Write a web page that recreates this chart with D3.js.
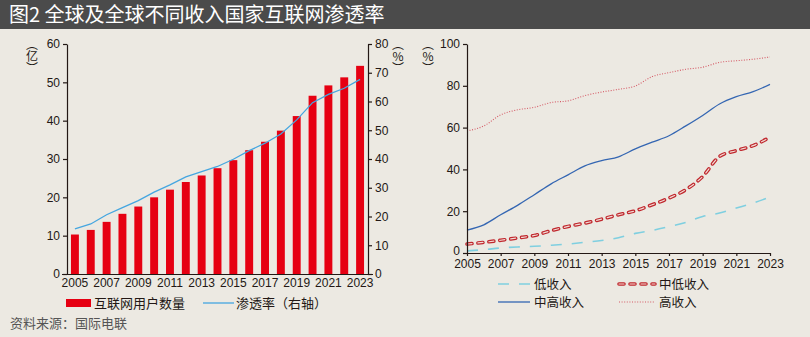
<!DOCTYPE html>
<html>
<head>
<meta charset="utf-8">
<script src="https://cdn.jsdelivr.net/npm/d3@7/dist/d3.min.js"></script>
<style>
  body { margin: 0; background: #ece9e2; }
  svg { display: block; }
  text { font-family: "Liberation Sans", Arial, sans-serif; fill: #231815; }
  .cjk { font-family: "Noto Sans CJK SC", sans-serif; }
</style>
</head>
<body>
<svg id="chart" width="810" height="337"></svg>
<script>
// years shared by both panels
var years = d3.range(2005, 2024);
var yearTicks = [2005, 2007, 2009, 2011, 2013, 2015, 2017, 2019, 2021, 2023];

// global internet users (100 million) and penetration (%)
var users = [10.3, 11.5, 13.6, 15.7, 17.6, 20.0, 22.0, 24.0, 25.7, 27.6, 29.7, 32.3, 34.5, 37.4, 41.2, 46.5, 49.2, 51.3, 54.3];
var penetration = [15.7, 17.4, 20.6, 23.1, 25.5, 28.5, 31.0, 33.8, 35.6, 37.4, 39.9, 42.9, 45.5, 48.7, 53.6, 59.6, 62.5, 64.6, 67.7];

// penetration by income group (%)
var lowIncome = [1.0, 1.6, 2.4, 2.9, 3.2, 3.7, 4.3, 5.1, 6.0, 7.3, 9.4, 10.8, 12.6, 14.6, 17.5, 19.1, 21.5, 23.9, 26.8];
var lowerMiddle = [4.3, 5.1, 6.1, 7.2, 8.4, 10.7, 12.7, 14.3, 16.2, 18.3, 20.2, 23.1, 26.3, 30.3, 36.6, 46.2, 49.0, 51.4, 55.4];
var upperMiddle = [11.0, 13.5, 18.3, 22.8, 27.9, 33.1, 37.4, 41.7, 44.2, 46.0, 49.8, 53.0, 56.1, 60.8, 65.8, 71.3, 74.8, 77.2, 80.7];
var highIncome = [58.4, 60.8, 66.1, 68.5, 69.7, 72.0, 72.8, 75.3, 77.0, 78.3, 79.9, 84.4, 86.3, 87.9, 88.9, 91.2, 92.0, 92.7, 93.8];

var leftTicks = [0, 10, 20, 30, 40, 50, 60];
var rightTicks = [0, 10, 20, 30, 40, 50, 60, 70, 80];
var pctTicks = [0, 20, 40, 60, 80, 100];

var svg = d3.select("#chart");

// title band
svg.append("rect").attr("x", 0).attr("y", 0).attr("width", 810).attr("height", 29).style("fill", "#4b4b4b");
svg.append("text").attr("class", "cjk").attr("x", 9).attr("y", 22)
    .style("font-size", "20px").style("fill", "#ffffff")
    .text("图2 全球及全球不同收入国家互联网渗透率");

// ---- left panel: users + penetration ----
var x1 = d3.scaleBand().domain(years).range([67, 368]).paddingInner(0.5).paddingOuter(0.25);
var yL = d3.scaleLinear().domain([0, 60]).range([274, 44]);
var yR = d3.scaleLinear().domain([0, 80]).range([274, 44]);

svg.append("g").selectAll("rect").data(years).enter().append("rect")
    .attr("x", function (d) { return x1(d); })
    .attr("width", x1.bandwidth())
    .attr("y", function (d, i) { return yL(users[i]); })
    .attr("height", function (d, i) { return yL(0) - yL(users[i]); })
    .style("fill", "#e60012");

var penLine = d3.line()
    .x(function (d, i) { return x1(years[i]) + x1.bandwidth() / 2; })
    .y(function (d) { return yR(d); });

svg.append("path").datum(penetration).attr("d", penLine)
    .style("fill", "none").style("stroke", "#45a6e0").style("stroke-width", 1.3);

function styleAxis(g) {
    g.selectAll("path, line").style("stroke", "#231815").style("stroke-width", 1.2);
    g.selectAll("text").style("font-size", "12px").style("fill", "#231815")
        .style("font-family", "'Liberation Sans', Arial, sans-serif");
}

svg.append("g").attr("transform", "translate(67,0)")
    .call(d3.axisLeft(yL).tickValues(leftTicks).tickSize(4).tickSizeOuter(0).tickPadding(3))
    .call(styleAxis);

svg.append("g").attr("transform", "translate(368,0)")
    .call(d3.axisRight(yR).tickValues(rightTicks).tickSize(4).tickSizeOuter(0).tickPadding(3))
    .call(styleAxis);

svg.append("g").attr("transform", "translate(0,274)")
    .call(d3.axisBottom(x1).tickValues(yearTicks).tickSize(0).tickSizeOuter(0).tickPadding(4))
    .call(styleAxis)
    .call(function (g) { g.select(".domain").attr("d", "M62,0.5H373"); });

// vertical unit labels
function unitLabel(x, y, txt) {
    svg.append("text").attr("class", "cjk").attr("x", x).attr("y", y)
        .style("writing-mode", "vertical-rl").style("text-orientation", "upright")
        .style("font-size", "12px")
        .text(txt);
}
unitLabel(32, 38, "（亿）");
unitLabel(398, 38, "（%）");
unitLabel(428, 38, "（%）");

// left legend
svg.append("rect").attr("x", 66).attr("y", 299).attr("width", 25).attr("height", 8).style("fill", "#e60012");
svg.append("text").attr("class", "cjk").attr("x", 94).attr("y", 308).style("font-size", "13px").text("互联网用户数量");
svg.append("line").attr("x1", 203).attr("x2", 234).attr("y1", 303).attr("y2", 303)
    .style("stroke", "#45a6e0").style("stroke-width", 1.3);
svg.append("text").attr("class", "cjk").attr("x", 236).attr("y", 308).style("font-size", "13px").text("渗透率（右轴）");

// source note
svg.append("text").attr("class", "cjk").attr("x", 10).attr("y", 328)
    .style("font-size", "13px").style("fill", "#555555").text("资料来源：国际电联");

// ---- right panel: income groups ----
var x2 = d3.scaleLinear().domain([2005, 2023]).range([467, 770]);
var y2 = d3.scaleLinear().domain([0, 100]).range([253, 44]);

var incLine = d3.line()
    .x(function (d, i) { return x2(years[i]); })
    .y(function (d) { return y2(d); })
    .curve(d3.curveMonotoneX);

function drawSeries(data, styles) {
    styles.forEach(function (s) {
        svg.append("path").datum(data).attr("d", incLine)
            .style("fill", "none").style("stroke", s.color).style("stroke-width", s.width)
            .style("stroke-dasharray", s.dash || null).style("stroke-linecap", s.cap || "butt");
    });
}

var lowStyle = [{ color: "#7fcfe0", width: 1.6, dash: "11,10" }];
var lowerStyle = [
    { color: "#c0272d", width: 3.6, dash: "5,6", cap: "round" },
    { color: "#f1dcd6", width: 1.2, dash: "5,6", cap: "round" }
];
var upperStyle = [{ color: "#3466b2", width: 1.3 }];
var highStyle = [{ color: "#d55a66", width: 1.1, dash: "1,1.6" }];

drawSeries(highIncome, highStyle);
drawSeries(upperMiddle, upperStyle);
drawSeries(lowerMiddle, lowerStyle);
drawSeries(lowIncome, lowStyle);

svg.append("g").attr("transform", "translate(467,0)")
    .call(d3.axisLeft(y2).tickValues(pctTicks).tickSize(4).tickSizeOuter(0).tickPadding(3))
    .call(styleAxis)
    // lift the zero label clear of the first year label
    .call(function (g) {
        g.selectAll(".tick text").filter(function (d) { return d === 0; }).attr("dy", "0.12em");
    });

svg.append("g").attr("transform", "translate(0,253)")
    .call(d3.axisBottom(x2).tickValues(yearTicks).tickFormat(d3.format("d")).tickSize(3).tickSizeOuter(0).tickPadding(3))
    .call(styleAxis);

// right legend
var legendItems = [
    { label: "低收入", styles: lowStyle, x: 498, y: 284 },
    { label: "中低收入", styles: lowerStyle, x: 619, y: 284 },
    { label: "中高收入", styles: upperStyle, x: 498, y: 302 },
    { label: "高收入", styles: highStyle, x: 619, y: 302 }
];
legendItems.forEach(function (item) {
    var len = item.x < 600 ? 32 : 36;
    item.styles.forEach(function (s) {
        svg.append("line").attr("x1", item.x).attr("x2", item.x + len).attr("y1", item.y).attr("y2", item.y)
            .style("stroke", s.color).style("stroke-width", s.width)
            .style("stroke-dasharray", s.dash || null).style("stroke-linecap", s.cap || "butt");
    });
    svg.append("text").attr("class", "cjk").attr("x", item.x + len + 4).attr("y", item.y + 5)
        .style("font-size", "12.5px").text(item.label);
});
</script>
</body>
</html>
